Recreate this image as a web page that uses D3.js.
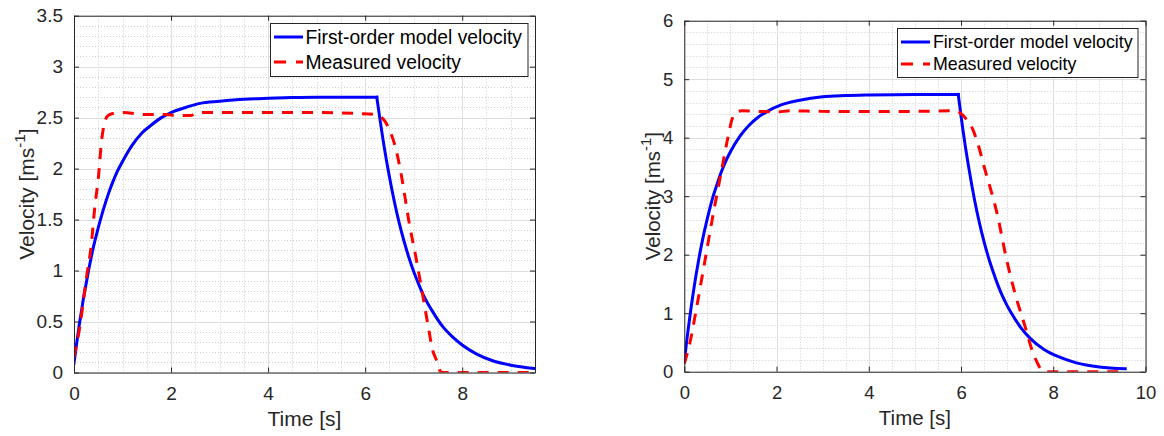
<!DOCTYPE html>
<html><head><meta charset="utf-8">
<script src="https://cdn.jsdelivr.net/npm/d3@7"></script>
<style>
html,body{margin:0;padding:0;background:#fff;}
svg{display:block;font-family:"Liberation Sans",Arial,Helvetica,sans-serif;}
</style></head>
<body>
<svg id="chart" width="1164" height="436"></svg>
<script>
// ---------------- DATA ----------------
const seriesNames = ["First-order model velocity", "Measured velocity"];
const xLabel = "Time [s]";

// Left panel (model switches from rise to decay at index of t = 6.24)
const leftModelTime = [0,0.05,0.1,0.15,0.2,0.25,0.3,0.4,0.5,0.6,0.7,0.8,0.9,1.0,1.2,1.4,1.6,1.8,2.0,2.3,2.6,3.0,3.5,4.0,4.5,5.0,6.24,
  6.3,6.4,6.5,6.6,6.7,6.8,6.9,7.0,7.1,7.2,7.4,7.6,7.8,8.0,8.3,8.6,9.0,9.49];
const leftModelVel = [0.09,0.27,0.44,0.59,0.74,0.87,1.00,1.23,1.42,1.59,1.74,1.87,1.98,2.07,2.23,2.35,2.43,2.50,2.55,2.60,2.64,2.66,2.68,2.69,2.697,2.70,2.70,
  2.50,2.19,1.92,1.68,1.47,1.29,1.13,0.99,0.87,0.76,0.59,0.45,0.35,0.27,0.18,0.12,0.072,0.04];
const leftMeasTime = [0,0.12,0.25,0.36,0.43,0.5,0.57,0.63,0.7,0.8,1.0,1.5,1.9,2.1,2.4,2.55,3,4,5,5.9,6.2,6.4,6.5,6.64,6.74,6.91,7.05,7.2,7.3,7.39,7.47,7.55,7.6,9.5];
const leftMeasVel = [0.15,0.45,0.91,1.27,1.63,1.9,2.28,2.45,2.52,2.54,2.55,2.53,2.53,2.52,2.52,2.55,2.55,2.55,2.55,2.54,2.53,2.47,2.38,2.18,1.95,1.46,1.12,0.72,0.45,0.22,0.12,0.01,0,0];
const leftXTicks = [0,2,4,6,8];
const leftYTicks = [0,0.5,1,1.5,2,2.5,3,3.5];
const leftYTickLabels = ["0","0.5","1","1.5","2","2.5","3","3.5"];

// Right panel (model switches at t = 5.94)
const rightModelTime = [0,0.05,0.1,0.15,0.2,0.25,0.3,0.4,0.5,0.6,0.7,0.8,0.9,1.0,1.2,1.4,1.6,1.8,2.1,2.5,3.0,3.5,4.0,5.0,5.94,
  6.0,6.1,6.2,6.3,6.4,6.5,6.6,6.7,6.8,6.9,7.0,7.1,7.3,7.5,7.8,8.1,8.5,9.0,9.56];
const rightModelVel = [0.17,0.51,0.82,1.11,1.38,1.63,1.86,2.27,2.62,2.93,3.18,3.41,3.60,3.76,4.02,4.21,4.35,4.45,4.56,4.64,4.70,4.72,4.73,4.74,4.74,
  4.37,3.82,3.34,2.91,2.54,2.22,1.94,1.70,1.48,1.29,1.13,0.99,0.75,0.57,0.38,0.26,0.15,0.08,0.05];
const rightMeasTime = [0,0.12,0.27,0.45,0.63,0.81,0.95,1.03,1.1,1.25,1.6,2.0,2.3,3,4,5,5.84,5.97,6.13,6.25,6.34,6.52,6.78,6.99,7.17,7.39,7.54,7.68,7.75,7.8,9.49];
const rightMeasVel = [0.14,0.49,1.11,1.91,2.71,3.45,4.02,4.3,4.42,4.46,4.45,4.44,4.46,4.45,4.45,4.45,4.46,4.43,4.30,4.15,3.96,3.45,2.71,1.91,1.34,0.77,0.37,0.11,0.02,0,0];
const rightXTicks = [0,2,4,6,8,10];
const rightYTicks = [0,1,2,3,4,5,6];
const rightYTickLabels = ["0","1","2","3","4","5","6"];

// ---------------- DRAW ----------------
const svg = d3.select("#chart");
const TEXT = "#262626";

function panel(cfg, idx) {
  const x = d3.scaleLinear().domain(cfg.xDomain).range([cfg.left, cfg.right]);
  const y = d3.scaleLinear().domain(cfg.yDomain).range([cfg.bottom, cfg.top]);
  const g = svg.append("g");
  const clipId = "clip" + idx;
  svg.append("defs").append("clipPath").attr("id", clipId)
    .append("rect").attr("x", cfg.left).attr("y", cfg.top)
    .attr("width", cfg.right - cfg.left).attr("height", cfg.bottom - cfg.top);

  // minor grid
  const xMinor = d3.range(cfg.xDomain[0], cfg.xDomain[1] + 1e-9, cfg.xMinor).filter(v => !cfg.xTicks.some(t => Math.abs(t - v) < 1e-9));
  const yMinor = d3.range(cfg.yDomain[0], cfg.yDomain[1] + 1e-9, cfg.yMinor).filter(v => !cfg.yTicks.some(t => Math.abs(t - v) < 1e-9));
  g.append("g").selectAll("line").data(xMinor).join("line")
    .attr("x1", d => Math.round(x(d)) + 0.5).attr("x2", d => Math.round(x(d)) + 0.5)
    .attr("y1", cfg.top).attr("y2", cfg.bottom)
    .attr("stroke", "#cfcfcf").attr("stroke-width", 1).attr("stroke-dasharray", "1,2");
  g.append("g").selectAll("line").data(yMinor).join("line")
    .attr("y1", d => Math.round(y(d)) + 0.5).attr("y2", d => Math.round(y(d)) + 0.5)
    .attr("x1", cfg.left).attr("x2", cfg.right)
    .attr("stroke", "#cfcfcf").attr("stroke-width", 1).attr("stroke-dasharray", "1,2");
  // major grid
  g.append("g").selectAll("line").data(cfg.xTicks).join("line")
    .attr("x1", d => Math.round(x(d)) + 0.5).attr("x2", d => Math.round(x(d)) + 0.5)
    .attr("y1", cfg.top).attr("y2", cfg.bottom)
    .attr("stroke", "#dedede").attr("stroke-width", 1);
  g.append("g").selectAll("line").data(cfg.yTicks).join("line")
    .attr("y1", d => Math.round(y(d)) + 0.5).attr("y2", d => Math.round(y(d)) + 0.5)
    .attr("x1", cfg.left).attr("x2", cfg.right)
    .attr("stroke", "#dedede").attr("stroke-width", 1);

  // lines
  const modelData = cfg.modelTime.map((t, i) => [t, cfg.modelVel[i]]);
  const measData = cfg.measTime.map((t, i) => [t, cfg.measVel[i]]);
  const k = cfg.modelTime.indexOf(cfg.switchTime);
  const lineMono = d3.line().x(d => x(d[0])).y(d => y(d[1])).curve(d3.curveMonotoneX);
  const lg = g.append("g").attr("clip-path", `url(#${clipId})`);
  [modelData.slice(0, k + 1), modelData.slice(k)].forEach(seg => {
    lg.append("path").datum(seg).attr("d", lineMono)
      .attr("fill", "none").attr("stroke", "#0000ff").attr("stroke-width", 3)
      .attr("stroke-linejoin", "round").attr("stroke-linecap", "square");
  });
  lg.append("path").datum(measData).attr("d", lineMono)
    .attr("fill", "none").attr("stroke", "#ff0000").attr("stroke-width", 3).attr("stroke-dasharray", "11,9");

  // axes
  const axB = d3.axisBottom(x).tickValues(cfg.xTicks).tickSizeInner(-5).tickSizeOuter(0).tickPadding(14).tickFormat(d3.format("d"));
  const axT = d3.axisTop(x).tickValues(cfg.xTicks).tickSizeInner(-5).tickSizeOuter(0).tickFormat("");
  const axL = d3.axisLeft(y).tickValues(cfg.yTicks).tickSizeInner(-5).tickSizeOuter(0).tickPadding(11).tickFormat((d, i) => cfg.yTickLabels[i]);
  const axR = d3.axisRight(y).tickValues(cfg.yTicks).tickSizeInner(-5).tickSizeOuter(0).tickFormat("");
  const styleAxis = sel => {
    sel.select(".domain").attr("stroke", TEXT).attr("stroke-width", 1);
    sel.selectAll(".tick line").attr("stroke", TEXT);
    sel.selectAll(".tick text").attr("fill", TEXT).style("font-size", cfg.tickFont + "px")
      .style("font-family", '"Liberation Sans",Arial,sans-serif');
  };
  g.append("g").attr("transform", `translate(0,${cfg.bottom})`).call(axB).call(styleAxis);
  g.append("g").attr("transform", `translate(0,${cfg.top})`).call(axT).call(styleAxis);
  g.append("g").attr("transform", `translate(${cfg.left},0)`).call(axL).call(styleAxis);
  g.append("g").attr("transform", `translate(${cfg.right},0)`).call(axR).call(styleAxis);

  // axis labels
  g.append("text").attr("x", (cfg.left + cfg.right) / 2).attr("y", cfg.xLabelY)
    .attr("text-anchor", "middle").attr("fill", TEXT).style("font-size", cfg.labelFont + "px").text(xLabel);
  const yl = g.append("text")
    .attr("transform", `translate(${cfg.yLabelX},${(cfg.top + cfg.bottom) / 2}) rotate(-90)`)
    .attr("text-anchor", "middle").attr("fill", TEXT).style("font-size", cfg.labelFont + "px");
  yl.append("tspan").text("Velocity [ms");
  yl.append("tspan").attr("dy", -cfg.labelFont * 0.42).style("font-size", (cfg.labelFont * 0.72) + "px").text("-1");
  yl.append("tspan").attr("dy", cfg.labelFont * 0.42).text("]");

  // legend
  const L = cfg.legend;
  const lgG = g.append("g");
  lgG.append("rect").attr("x", L.x0 + 0.5).attr("y", L.y0 + 0.5).attr("width", L.x1 - L.x0).attr("height", L.y1 - L.y0)
    .attr("fill", "#fff").attr("stroke", TEXT).attr("stroke-width", 1);
  const rows = [{c: "#0000ff", dash: null, y: L.row1}, {c: "#ff0000", dash: "12,10", y: L.row2}];
  rows.forEach((r, i) => {
    const ln = lgG.append("line").attr("x1", L.sx0).attr("x2", L.sx1).attr("y1", r.y).attr("y2", r.y)
      .attr("stroke", r.c).attr("stroke-width", 3);
    if (r.dash) ln.attr("stroke-dasharray", r.dash);
    lgG.append("text").attr("x", L.tx).attr("y", r.y).attr("dy", "0.36em").attr("fill", "#000")
      .style("font-size", L.font + "px").text(seriesNames[i]);
  });
}

panel({
  left: 74, right: 535, top: 15.7, bottom: 372.5,
  xDomain: [0, 9.5], yDomain: [0, 3.5], xMinor: 0.5, yMinor: 0.1,
  xTicks: leftXTicks, yTicks: leftYTicks, yTickLabels: leftYTickLabels,
  modelTime: leftModelTime, modelVel: leftModelVel, measTime: leftMeasTime, measVel: leftMeasVel, switchTime: 6.24,
  tickFont: 19, labelFont: 21, xLabelY: 426, yLabelX: 33.5,
  legend: {x0: 270, x1: 527.5, y0: 23, y1: 76, sx0: 274, sx1: 303, tx: 305.5, row1: 37, row2: 62, font: 19.3}
}, 0);

panel({
  left: 684.3, right: 1145.5, top: 20.7, bottom: 371.7,
  xDomain: [0, 10], yDomain: [0, 6], xMinor: 0.5, yMinor: 0.2,
  xTicks: rightXTicks, yTicks: rightYTicks, yTickLabels: rightYTickLabels,
  modelTime: rightModelTime, modelVel: rightModelVel, measTime: rightMeasTime, measVel: rightMeasVel, switchTime: 5.94,
  tickFont: 18.5, labelFont: 20.5, xLabelY: 425, yLabelX: 660,
  legend: {x0: 897, x1: 1137.5, y0: 28, y1: 77, sx0: 901, sx1: 930, tx: 933, row1: 42, row2: 64, font: 17.8}
}, 1);
</script>
</body></html>
